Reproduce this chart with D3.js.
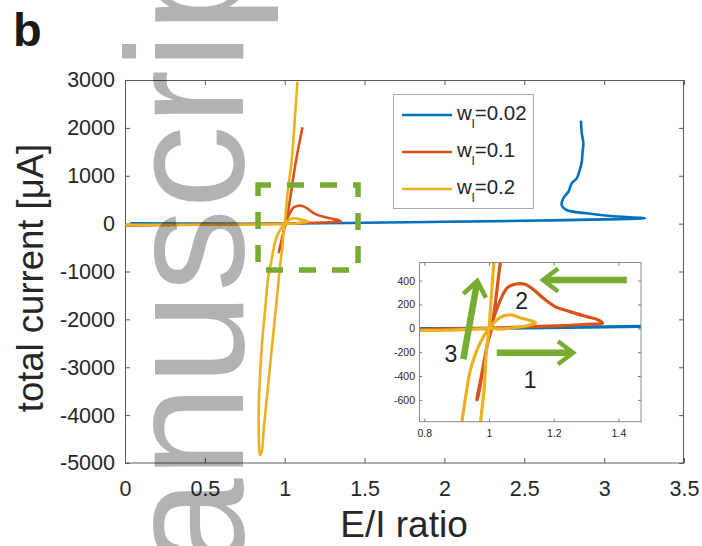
<!DOCTYPE html>
<html><head><meta charset="utf-8">
<script src="https://cdn.jsdelivr.net/npm/d3@7"></script>
<style>body{margin:0;background:#fff}svg{display:block}text{font-family:"Liberation Sans",Arial,Helvetica,sans-serif}</style>
</head><body>
<svg id="c" width="702" height="546"></svg>
<script>
// ---------- data ----------
const xTicks = [0, 0.5, 1, 1.5, 2, 2.5, 3, 3.5];
const yTicks = [-5000, -4000, -3000, -2000, -1000, 0, 1000, 2000, 3000];
const insetXTicks = [0.8, 1, 1.2, 1.4];
const insetYTicks = [-600, -400, -200, 0, 200, 400];
const seriesLabels = ["0.02", "0.1", "0.2"];

// w_I = 0.02
const blueX = [0.04, 0.5, 1.0, 1.5, 2.0, 2.5, 3.0, 3.256, 3.037, 2.891, 2.765, 2.734, 2.744, 2.776, 2.797, 2.828, 2.844, 2.860, 2.864, 2.870, 2.860, 2.855];
const blueY = [5, 0, 0, 18, 38, 60, 88, 111, 159, 215, 284, 389, 528, 666, 841, 946, 1084, 1293, 1468, 1677, 1886, 2128];

// w_I = 0.1
const redX = [0.01, 0.5, 1.0, 1.096, 1.158, 1.230, 1.302, 1.351, 1.338, 1.302, 1.250, 1.204, 1.168, 1.139, 1.111, 1.080, 1.055, 1.029, 1.005, 0.990, 0.975, 0.962, 0.967, 0.982, 0.998, 1.008, 1.035, 1.07, 1.110];
const redY = [-40, -20, 0, 11, 17, 22, 34, 42, 70, 98, 140, 182, 252, 322, 370, 370, 336, 196, 0, -200, -420, -600, -560, -330, -100, 0, 554, 1300, 1990];

// w_I = 0.2
const yelX = [0.01, 0.5, 0.8, 0.95, 1.0, 1.034, 1.075, 1.117, 1.145, 1.121, 1.096, 1.070, 1.046, 1.024, 1.0, 0.972, 0.957, 0.941, 0.929, 0.916, 0.897, 0.877, 0.858, 0.845, 0.837, 0.839, 0.845, 0.856, 0.870, 0.891, 0.912, 0.933, 0.954, 0.975, 0.985, 0.991, 1.0, 1.016, 1.044, 1.060, 1.079];
const yelY = [-25, -22, -18, -8, 0, -6, 5, 22, 47, 70, 89, 112, 106, 70, 0, -126, -224, -365, -552, -785, -1109, -1805, -2500, -3198, -3894, -4590, -4833, -4764, -4242, -3545, -2849, -2153, -1456, -760, -504, -224, 0, 580, 1329, 2024, 2943];

// zoom region marked in main axes: [xmin, xmax], [ymin, ymax]
const zoomBoxX = [0.833, 1.459];
const zoomBoxY = [-969, 806];

// inset annotation arrows (inset data coords): [x0, y0, x1, y1]
const arrows = [[1.426, 405, 1.167, 405], [1.024, -205, 1.260, -205], [0.9206, -258, 0.9638, 397]];
const arrowLabels = ["2", "1", "3"];
const arrowLabelX = [1.101, 1.127, 0.8825];
const arrowLabelY = [162, -498, -283];

// ---------- setup ----------
const colors = ["#0072BD", "#D95319", "#EDB120"];
const green = "#77AC30";
const series = [
  {x: blueX, y: blueY},
  {x: redX, y: redY},
  {x: yelX, y: yelY}
].map((s, i) => ({pts: s.x.map((v, j) => [v, s.y[j]]), color: colors[i], label: seriesLabels[i]}));

const svg = d3.select("#c");
svg.append("rect").attr("width", 702).attr("height", 546).attr("fill", "#fff");

const x = d3.scaleLinear().domain([0, 3.5]).range([125, 684]);
const y = d3.scaleLinear().domain([-5000, 3000]).range([463, 80]);
const axisCol = "#5a5a5a";
const txtCol = "#262626";

// ticks (inside) and labels
const gx = svg.append("g").attr("transform", "translate(0,463)")
  .call(d3.axisBottom(x).tickValues(xTicks).tickSizeInner(-5).tickSizeOuter(0).tickPadding(18).tickFormat(d => String(d)));
const gy = svg.append("g").attr("transform", "translate(125,0)")
  .call(d3.axisLeft(y).tickValues(yTicks).tickSizeInner(-5).tickSizeOuter(0).tickPadding(10).tickFormat(d => String(d)));
const gx2 = svg.append("g").attr("transform", "translate(0,80)")
  .call(d3.axisTop(x).tickValues(xTicks).tickSizeInner(-5).tickSizeOuter(0).tickFormat(""));
const gy2 = svg.append("g").attr("transform", "translate(684,0)")
  .call(d3.axisRight(y).tickValues(yTicks).tickSizeInner(-5).tickSizeOuter(0).tickFormat(""));
[gx, gy, gx2, gy2].forEach(g => {
  g.select(".domain").remove();
  g.selectAll("line").attr("stroke", axisCol);
  g.selectAll("text").attr("fill", txtCol).attr("font-size", 21.5).attr("font-family", "Liberation Sans, Arial, sans-serif");
});
svg.append("rect").attr("x", 125.5).attr("y", 80.5).attr("width", 558).attr("height", 382.5)
  .attr("fill", "none").attr("stroke", axisCol).attr("stroke-width", 1);

// axis labels
svg.append("text").attr("x", 404).attr("y", 537).attr("text-anchor", "middle")
  .attr("font-size", 37).attr("fill", txtCol).text("E/I ratio");
svg.append("text").attr("transform", "translate(43,278) rotate(-90)").attr("text-anchor", "middle")
  .attr("font-size", 36.5).attr("fill", txtCol).text("total current [\u03bcA]");

// panel letter
svg.append("text").attr("x", 13).attr("y", 46).attr("font-size", 47).attr("font-weight", "bold")
  .attr("fill", "#1a1a1a").text("b");

// main lines
const line = d3.line().x(d => x(d[0])).y(d => y(d[1])).curve(d3.curveCatmullRom.alpha(0.5));
svg.append("defs").append("clipPath").attr("id", "mainClip")
  .append("rect").attr("x", 125).attr("y", 80).attr("width", 559).attr("height", 383);
const gm = svg.append("g").attr("clip-path", "url(#mainClip)");
series.forEach(s => {
  gm.append("path").attr("d", line(s.pts)).attr("fill", "none").attr("stroke", s.color)
    .attr("stroke-width", 2.6).attr("stroke-linejoin", "round").attr("stroke-linecap", "round");
});

// green dashed zoom box
svg.append("rect").attr("x", x(zoomBoxX[0])).attr("y", y(zoomBoxY[1]))
  .attr("width", x(zoomBoxX[1]) - x(zoomBoxX[0])).attr("height", y(zoomBoxY[0]) - y(zoomBoxY[1]))
  .attr("fill", "none").attr("stroke", green).attr("stroke-width", 5.5)
  .attr("stroke-dasharray", "17,16").attr("stroke-dashoffset", 4);

// legend
const lg = svg.append("g");
lg.append("rect").attr("x", 393.5).attr("y", 94.5).attr("width", 140).attr("height", 114)
  .attr("fill", "#fff").attr("stroke", "#a8a8a8").attr("stroke-width", 1);
series.forEach((s, i) => {
  const ly = 115 + i * 37;
  lg.append("line").attr("x1", 402).attr("x2", 452).attr("y1", ly).attr("y2", ly)
    .attr("stroke", s.color).attr("stroke-width", 2.6);
  const t = lg.append("text").attr("x", 457).attr("y", ly + 4.5).attr("fill", txtCol).attr("font-size", 20.5);
  t.append("tspan").text("w");
  t.append("tspan").attr("font-size", 13).attr("dy", 8).text("l");
  t.append("tspan").attr("dy", -8).text("=" + s.label);
});

// ---------- inset ----------
const ix = d3.scaleLinear().domain([0.7836, 1.4698]).range([419, 641]);
const iy = d3.scaleLinear().domain([-783, 552]).range([421.7, 262.5]);
const ig = svg.append("g");
ig.append("rect").attr("x", 419).attr("y", 262.5).attr("width", 222).attr("height", 159.2).attr("fill", "#fff");
const igx = ig.append("g").attr("transform", "translate(0,421.7)")
  .call(d3.axisBottom(ix).tickValues(insetXTicks).tickSizeInner(-3).tickSizeOuter(0).tickPadding(8).tickFormat(d => String(d)));
const igy = ig.append("g").attr("transform", "translate(419,0)")
  .call(d3.axisLeft(iy).tickValues(insetYTicks).tickSizeInner(-3).tickSizeOuter(0).tickPadding(4).tickFormat(d => String(d)));
const igx2 = ig.append("g").attr("transform", "translate(0,262.5)")
  .call(d3.axisTop(ix).tickValues(insetXTicks).tickSizeInner(-3).tickSizeOuter(0).tickFormat(""));
const igy2 = ig.append("g").attr("transform", "translate(641,0)")
  .call(d3.axisRight(iy).tickValues(insetYTicks).tickSizeInner(-3).tickSizeOuter(0).tickFormat(""));
[igx, igy, igx2, igy2].forEach(g => {
  g.select(".domain").remove();
  g.selectAll("line").attr("stroke", "#777");
  g.selectAll("text").attr("fill", txtCol).attr("font-size", 10.5).attr("font-family", "Liberation Sans, Arial, sans-serif");
});
svg.select("defs").append("clipPath").attr("id", "insetClip")
  .append("rect").attr("x", 419).attr("y", 262.5).attr("width", 222).attr("height", 159.2);
const ilines = ig.append("g").attr("clip-path", "url(#insetClip)");
const iline = d3.line().x(d => ix(d[0])).y(d => iy(d[1])).curve(d3.curveCatmullRom.alpha(0.5));
series.forEach(s => {
  ilines.append("path").attr("d", iline(s.pts)).attr("fill", "none").attr("stroke", s.color)
    .attr("stroke-width", 3.2).attr("stroke-linejoin", "round").attr("stroke-linecap", "round");
});
ig.append("rect").attr("x", 419.5).attr("y", 262.5).attr("width", 221.5).attr("height", 159.2)
  .attr("fill", "none").attr("stroke", "#8a8a8a").attr("stroke-width", 1);

// arrows
arrows.forEach(a => {
  const x0 = ix(a[0]), y0 = iy(a[1]), x1 = ix(a[2]), y1 = iy(a[3]);
  const ang = Math.atan2(y1 - y0, x1 - x0);
  const L = 19, h = 0.65;
  ig.append("line").attr("x1", x0).attr("y1", y0).attr("x2", x1 - Math.cos(ang) * 2).attr("y2", y1 - Math.sin(ang) * 2)
    .attr("stroke", green).attr("stroke-width", 6.5);
  const p1 = [x1 - L * Math.cos(ang - h), y1 - L * Math.sin(ang - h)];
  const p2 = [x1 - L * Math.cos(ang + h), y1 - L * Math.sin(ang + h)];
  ig.append("path").attr("d", `M${p1[0]},${p1[1]}L${x1},${y1}L${p2[0]},${p2[1]}`)
    .attr("fill", "none").attr("stroke", green).attr("stroke-width", 4.5).attr("stroke-linejoin", "miter");
});
arrowLabels.forEach((t, i) => {
  ig.append("text").attr("x", ix(arrowLabelX[i])).attr("y", iy(arrowLabelY[i])).attr("text-anchor", "middle")
    .attr("font-size", 23).attr("fill", "#1e1e1e").text(t);
});

// watermark
svg.append("text").attr("transform", "translate(243,710) rotate(-90)")
  .attr("font-size", 167).attr("fill", "#000").attr("fill-opacity", 0.3).text("Manuscript");
</script>
</body></html>
